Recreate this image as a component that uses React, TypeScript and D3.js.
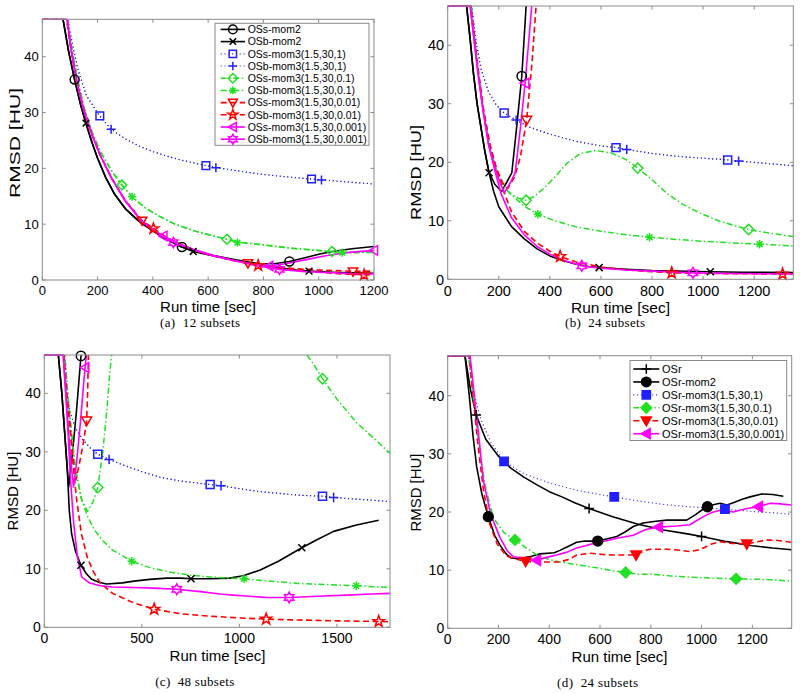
import React from "react";
import * as d3 from "d3";

type P = [number, number];

// ---------- (a) 12 subsets ----------
const aOSsMom2: P[] = [[0,60],[75,47],[95,41],[117,35.9],[138,31.5],[158,28],[180,24.6],[200,21.8],[230,18.3],[260,15.5],[300,12.8],[350,10.5],[400,8.8],[450,7.3],[505,5.9],[560,5.1],[620,4.4],[700,3.6],[780,2.95],[840,2.9],[894,3.3],[950,4.0],[1000,4.6],[1050,5.1],[1120,5.6],[1200,6.0]];
const aOSsMom2Marks: P[] = [[117,35.9],[505,5.9],[894,3.3]];
const aOSbMom2: P[] = [[0,60],[75,47],[95,41],[117,35.8],[138,31.5],[158,28.1],[180,24.6],[200,21.8],[230,18.3],[260,15.5],[300,12.8],[350,10.5],[400,8.8],[450,7.3],[500,6.0],[546,5.1],[620,4.3],[700,3.5],[780,2.8],[860,2.2],[920,1.8],[965,1.6],[1050,1.4],[1120,1.3],[1200,1.2]];
const aOSbMom2Marks: P[] = [[158,28.1],[546,5.1],[965,1.6]];
const aOSs1: P[] = [[0,60],[92,47],[110,42],[130,37.5],[160,33],[208,29.4],[249,27.0],[300,25.3],[350,24],[400,23],[450,22.2],[500,21.5],[592,20.5],[700,19.6],[800,18.9],[900,18.4],[974,18.1],[1050,17.8],[1120,17.5],[1200,17.2]];
const aOSs1Marks: P[] = [[208,29.4],[592,20.5],[974,18.1]];
const aOSb1: P[] = [[0,60],[92,47],[110,42],[130,37.5],[160,33],[208,29.3],[249,27.0],[300,25.3],[350,24],[400,23],[450,22.2],[500,21.5],[628,20.1],[700,19.6],[800,18.9],[900,18.4],[1010,17.9],[1120,17.5],[1200,17.2]];
const aOSb1Marks: P[] = [[249,27.0],[628,20.1],[1010,17.9]];
const aOSs01: P[] = [[0,60],[90,47],[105,42],[125,36.5],[150,31],[180,26.5],[210,23],[250,19.6],[288,17.0],[325,14.9],[370,13],[420,11.5],[480,10],[550,8.8],[610,8],[668,7.3],[706,6.8],[760,6.5],[830,6.1],[900,5.7],[970,5.4],[1048,5.1],[1085,5.0],[1140,4.95],[1200,5.0]];
const aOSs01Marks: P[] = [[288,17.0],[668,7.3],[1048,5.1]];
const aOSb01: P[] = [[0,60],[90,47],[105,42],[125,36.5],[150,31],[180,26.5],[210,23],[250,19.6],[288,17.0],[325,14.9],[370,13],[420,11.5],[480,10],[550,8.8],[610,8],[668,7.3],[706,6.8],[760,6.5],[830,6.1],[900,5.7],[970,5.4],[1048,5.1],[1085,4.9],[1140,4.9],[1200,4.95]];
const aOSb01Marks: P[] = [[325,14.9],[706,6.7],[1085,4.9]];
const aOSs001: P[] = [[0,60],[88,47],[105,41],[125,35.5],[150,30.5],[180,26],[210,22.3],[250,18.3],[300,14.2],[361,10.6],[402,9.2],[450,7.6],[500,6.4],[560,5.2],[620,4.3],[680,3.6],[744,3.0],[781,2.65],[850,2.3],[920,2.0],[1000,1.8],[1080,1.65],[1124,1.55],[1200,1.6]];
const aOSs001Marks: P[] = [[361,10.6],[744,3.0],[1124,1.5]];
const aOSb001: P[] = [[0,60],[88,47],[105,41],[125,35.5],[150,30.5],[180,26],[210,22.3],[250,18.3],[300,14.2],[361,10.6],[402,9.2],[450,7.6],[500,6.4],[560,5.2],[620,4.3],[680,3.6],[744,3.0],[781,2.6],[850,2.2],[920,1.8],[1000,1.4],[1080,1.1],[1164,0.95],[1200,0.9]];
const aOSb001Marks: P[] = [[402,9.2],[781,2.6],[1164,0.9]];
const aOSs0001: P[] = [[0,60],[90,47],[105,41],[125,35.5],[150,30.5],[180,26],[210,22.3],[250,18.3],[300,14.2],[360,10.5],[400,9.0],[438,7.9],[500,6.3],[560,5.2],[620,4.3],[700,3.4],[760,2.9],[821,2.5],[880,2.9],[950,3.6],[1020,4.3],[1100,4.9],[1200,5.3]];
const aOSs0001Marks: P[] = [[438,7.9],[821,2.5],[1200,5.3]];
const aOSb0001: P[] = [[0,60],[90,47],[105,41],[125,35.5],[150,30.5],[180,26],[210,22.3],[250,18.3],[300,14.2],[360,10.5],[400,9.0],[438,7.8],[474,6.8],[540,5.6],[620,4.4],[700,3.4],[780,2.5],[858,1.9],[950,1.5],[1050,1.3],[1120,1.15],[1200,1.1]];
const aOSb0001Marks: P[] = [[474,6.7],[858,1.9]];

// ---------- (b) 24 subsets ----------
const bOSsMom2: P[] = [[0,60],[74,47],[88,41],[100,35.5],[115,30],[130,26],[145,22],[162,18.2],[185,16.2],[211,15],[230,16.5],[251,18.2],[270,26],[290,34.7],[307,47]];
const bOSsMom2Marks: P[] = [[290,34.7]];
const bOSbMom2: P[] = [[0,60],[74,47],[88,41],[100,35.5],[115,30],[130,26],[145,22],[162,18.2],[180,15],[200,12.4],[250,9.0],[300,6.9],[350,5.2],[400,4.0],[450,3.2],[500,2.6],[550,2.2],[593,2.0],[700,1.7],[800,1.5],[900,1.4],[1028,1.3],[1150,1.2],[1353,1.15]];
const bOSbMom2Marks: P[] = [[162,18.2],[593,2.0],[1028,1.3]];
const bOSs1: P[] = [[0,60],[94,47],[110,41],[130,36],[160,32],[190,29.8],[221,28.4],[268,27.2],[320,26],[400,24.8],[500,23.6],[600,22.8],[659,22.5],[701,22.2],[800,21.5],[900,21],[1000,20.7],[1096,20.4],[1139,20.2],[1250,19.8],[1353,19.4]];
const bOSs1Marks: P[] = [[221,28.4],[659,22.5],[1096,20.4]];
const bOSb1: P[] = [[0,60],[94,47],[110,41],[130,36],[160,32],[190,29.8],[221,28.4],[268,27.2],[320,26],[400,24.8],[500,23.6],[600,22.8],[659,22.5],[701,22.2],[800,21.5],[900,21],[1000,20.7],[1096,20.4],[1139,20.2],[1250,19.8],[1353,19.4]];
const bOSb1Marks: P[] = [[268,27.2],[701,22.2],[1139,20.2]];
const bOSs01: P[] = [[0,60],[92,47],[105,41],[120,35],[140,28.5],[165,22.5],[195,18],[225,15.5],[250,14.5],[280,13.8],[307,13.5],[340,14.2],[375,15.5],[420,17.5],[466,19.8],[520,21.5],[580,22],[640,21.6],[700,20.4],[744,19.0],[800,17],[858,14.7],[920,12.8],[989,11.3],[1060,10],[1120,9.2],[1178,8.5],[1260,7.9],[1353,7.3]];
const bOSs01Marks: P[] = [[307,13.5],[744,19.0],[1178,8.5]];
const bOSb01: P[] = [[0,60],[92,47],[105,41],[120,35],[140,28.5],[165,22.5],[195,18],[225,15.5],[250,14.4],[300,12.5],[353,11.1],[420,10],[500,9],[600,8.2],[700,7.6],[790,7.2],[900,6.8],[1000,6.5],[1100,6.25],[1221,6.0],[1353,5.7]];
const bOSb01Marks: P[] = [[353,11.1],[790,7.2],[1221,6.0]];
const bOSs001: P[] = [[0,60],[90,47],[105,41],[120,35.5],[140,29],[165,23],[190,19],[215,16.5],[235,15.5],[262,17.5],[285,21],[309,27.2],[330,37],[346,47]];
const bOSs001Marks: P[] = [[309,27.2]];
const bOSb001: P[] = [[0,60],[90,47],[105,41],[120,35.5],[140,29],[165,23],[190,19],[215,15.5],[250,11.5],[300,8.2],[350,6.2],[400,4.8],[440,3.9],[500,3.0],[600,2.1],[700,1.6],[800,1.3],[877,1.1],[1000,1.0],[1150,0.95],[1311,0.9],[1353,0.9]];
const bOSb001Marks: P[] = [[440,3.9],[877,1.1],[1311,0.9]];
const bOSs0001: P[] = [[0,60],[88,47],[103,41],[118,35.5],[138,29],[160,23],[185,19],[205,16.5],[222,14.8],[245,16.5],[264,18.2],[285,26],[303,33.5],[329,47]];
const bOSs0001Marks: P[] = [[303,33.5]];
const bOSb0001: P[] = [[0,60],[88,47],[103,41],[118,35.5],[138,29],[160,23],[185,18.5],[210,14.5],[250,10.5],[300,7.6],[350,5.6],[400,4.3],[450,3.3],[525,2.3],[600,1.9],[700,1.6],[800,1.4],[960,1.1],[1100,1.0],[1353,0.9]];
const bOSb0001Marks: P[] = [[525,2.3],[960,1.1]];

// ---------- (c) 48 subsets ----------
const cOSsMom2: P[] = [[0,60],[72,47],[90,40],[105,33],[118,27],[125,24],[145,30],[165,37],[188,46.4],[192,48]];
const cOSsMom2Marks: P[] = [[188,46.4]];
const cOSbMom2: P[] = [[0,60],[72,47],[90,40],[105,33],[118,27],[128,20],[140,16],[160,13],[188,10.6],[215,9.2],[243,8.2],[280,7.7],[320,7.4],[400,7.6],[460,7.9],[540,8.2],[628,8.4],[700,8.4],[752,8.3],[850,8.3],[950,8.4],[1020,8.8],[1107,9.8],[1200,11.3],[1320,13.6],[1400,15.0],[1483,16.4],[1600,17.5],[1714,18.3]];
const cOSbMom2Marks: P[] = [[188,10.6],[752,8.3],[1320,13.6]];
const cOSs1: P[] = [[0,60],[97,47],[110,41],[130,37],[160,34],[200,32],[240,30.5],[274,29.6],[332,28.7],[400,27.8],[500,26.6],[600,25.6],[700,25],[850,24.4],[906,24.2],[1000,23.7],[1100,23.2],[1200,22.9],[1300,22.6],[1426,22.4],[1483,22.2],[1600,21.9],[1772,21.5]];
const cOSs1Marks: P[] = [[274,29.6],[850,24.4],[1426,22.4]];
const cOSb1: P[] = [[0,60],[97,47],[110,41],[130,37],[160,34],[200,32],[240,30.5],[274,29.6],[332,28.7],[400,27.8],[500,26.6],[600,25.6],[700,25],[850,24.4],[906,24.2],[1000,23.7],[1100,23.2],[1200,22.9],[1300,22.6],[1426,22.4],[1483,22.2],[1600,21.9],[1772,21.5]];
const cOSb1Marks: P[] = [[332,28.7],[906,24.2],[1483,22.2]];
const cOSs01: P[] = [[0,60],[105,47],[120,40],[140,33],[160,27],[190,22],[221,19.8],[250,21.5],[274,23.9],[300,30],[320,37],[337,44],[345,48],[NaN,NaN],[1346,48],[1380,45],[1426,42.5],[1500,39],[1600,35],[1700,32],[1772,29.7]];
const cOSs01Marks: P[] = [[274,23.9],[1426,42.5]];
const cOSb01: P[] = [[0,60],[105,47],[120,40],[140,33],[160,27],[190,22],[221,19],[260,16.5],[300,14.8],[350,13.2],[448,11.3],[550,10.1],[650,9.4],[750,8.9],[850,8.6],[950,8.4],[1024,8.3],[1150,7.9],[1300,7.5],[1450,7.3],[1599,7.1],[1772,6.8]];
const cOSb01Marks: P[] = [[448,11.3],[1024,8.3],[1599,7.1]];
const cOSs001: P[] = [[0,60],[100,47],[115,40],[135,33],[150,28],[162,25.2],[180,28],[200,31.5],[217,35.3],[222,40],[226,47]];
const cOSs001Marks: P[] = [[217,35.3]];
const cOSb001: P[] = [[0,60],[100,47],[115,40],[135,33],[150,27],[165,22],[190,16],[220,12],[250,9.6],[286,7.6],[350,5.8],[457,4.2],[563,3.1],[700,2.3],[850,1.9],[1000,1.6],[1137,1.4],[1300,1.25],[1500,1.1],[1714,1.0],[1772,0.95]];
const cOSb001Marks: P[] = [[563,3.1],[1137,1.4],[1714,1.0]];
const cOSs0001: P[] = [[0,60],[97,47],[110,40],[125,33],[140,27],[150,24],[165,28],[185,35],[200,41],[209,44.4],[216,48]];
const cOSs0001Marks: P[] = [[209,44.4]];
const cOSb0001: P[] = [[0,60],[97,47],[110,40],[122,33],[135,25],[150,18],[170,12],[192,8.6],[230,7.6],[286,7.1],[350,6.9],[457,6.8],[560,6.7],[679,6.5],[800,6.1],[900,5.7],[970,5.5],[1050,5.3],[1141,5.1],[1255,5.1],[1400,5.3],[1550,5.5],[1680,5.7],[1772,5.8]];
const cOSb0001Marks: P[] = [[679,6.5],[1255,5.1]];

// ---------- (d) 24 subsets ----------
const dOSr: P[] = [[0,60],[68,47],[90,41],[112,36.7],[150,32.5],[200,29.6],[250,27.5],[300,26],[350,24.7],[400,23.5],[450,22.6],[500,21.6],[557,20.6],[650,19.2],[750,17.9],[850,16.9],[950,16.2],[1000,15.8],[1100,14.9],[1200,14.2],[1280,13.8],[1355,13.5]];
const dOSrMarks: P[] = [[112,36.7],[557,20.6],[1000,15.8]];
const dOSrMom2: P[] = [[0,60],[68,47],[85,40],[100,33],[114,27.8],[135,23],[160,19.2],[185,16],[206,14.3],[230,12.8],[250,12.1],[285,12.0],[330,12.4],[364,12.8],[420,13.0],[442,13.4],[480,14.2],[508,14.8],[540,15.0],[591,15.0],[630,15.4],[666,15.8],[700,16.6],[731,17.5],[770,18.1],[820,18.4],[863,18.6],[941,18.6],[975,19.5],[1000,20.3],[1023,20.9],[1050,21.3],[1073,21.5],[1100,21.2],[1125,21.6],[1160,22.2],[1191,22.6],[1237,23.1],[1280,23.0],[1322,22.7]];
const dOSrMom2Marks: P[] = [[160,19.2],[591,15.0],[1023,20.9]];
const dOSr1: P[] = [[0,60],[81,47],[100,41],[130,36],[170,32],[222,28.7],[300,26.6],[400,25],[500,23.8],[600,23],[656,22.6],[750,21.9],[850,21.3],[950,20.9],[1092,20.5],[1200,20.1],[1300,19.8],[1355,19.6]];
const dOSr1Marks: P[] = [[222,28.7],[656,22.6],[1092,20.5]];
const dOSr01: P[] = [[0,60],[82,47],[100,40],[127,30],[150,24],[180,19],[220,16.5],[265,15.2],[310,13.8],[364,12.3],[420,11.6],[469,11.2],[530,10.8],[600,10.3],[650,9.9],[701,9.6],[750,9.3],[797,9.3],[880,9.0],[994,8.7],[1060,8.6],[1136,8.5],[1250,8.4],[1355,8.1]];
const dOSr01Marks: P[] = [[265,15.2],[701,9.6],[1136,8.5]];
const dOSr001: P[] = [[0,60],[85,47],[100,40],[118,32],[140,24],[165,18],[195,14.5],[230,12.5],[260,12.0],[307,11.5],[377,11.4],[442,11.4],[480,11.9],[508,12.6],[561,12.9],[610,12.7],[652,12.6],[742,12.6],[770,13.3],[797,13.6],[863,13.6],[920,13.4],[954,13.2],[990,13.5],[1007,13.8],[1040,14.5],[1073,14.9],[1120,14.6],[1178,14.5],[1256,15.2],[1300,15.1],[1355,14.8]];
const dOSr001Marks: P[] = [[307,11.5],[742,12.6],[1178,14.5]];
const dOSr0001: P[] = [[0,60],[88,47],[105,40],[125,32],[140,25.5],[170,19.5],[206,15.6],[235,13.3],[259,12.3],[311,12.0],[350,11.7],[390,12.2],[429,12.6],[470,13.1],[508,13.8],[550,14.3],[587,14.7],[630,15.1],[666,15.5],[731,16.0],[780,17.0],[830,17.4],[902,17.6],[954,17.8],[980,18.5],[1007,19.2],[1040,19.9],[1073,20.3],[1100,20.2],[1125,20.0],[1150,20.3],[1178,20.6],[1224,20.9],[1270,21.5],[1310,21.4],[1355,21.2]];
const dOSr0001Marks: P[] = [[350,11.7],[830,17.4],[1224,20.9]];

// labels and ticks
const legendA = ["OSs-mom2","OSb-mom2","OSs-mom3(1.5,30,1)","OSb-mom3(1.5,30,1)","OSs-mom3(1.5,30,0.1)","OSb-mom3(1.5,30,0.1)","OSs-mom3(1.5,30,0.01)","OSb-mom3(1.5,30,0.01)","OSs-mom3(1.5,30,0.001)","OSb-mom3(1.5,30,0.001)"];
const legendD = ["OSr","OSr-mom2","OSr-mom3(1.5,30,1)","OSr-mom3(1.5,30,0.1)","OSr-mom3(1.5,30,0.01)","OSr-mom3(1.5,30,0.001)"];
const xTicks200 = [0,200,400,600,800,1000,1200];
const xTicks500 = [0,500,1000,1500];
const yTicks = [0,10,20,30,40];
const captions = ["(a)  12 subsets","(b)  24 subsets","(c)  48 subsets","(d)  24 subsets"];

// styles
const K = "#000000", B = "#2020ff", G = "#22e022", R = "#ff0000", M = "#ff00ff";
const DASH = "6,3.5", DOT = "1,2.8", DASHDOT = "6,2.5,1.5,2.5";
type Sty = { color: string; dash?: string; w: number; mk: string; fill?: boolean };
const solidK = (mk: string, fill = false): Sty => ({ color: K, w: 1.6, mk, fill });
const stylesA: Sty[] = [
  solidK("o"), solidK("x"),
  { color: B, dash: DOT, w: 1.2, mk: "s" }, { color: B, dash: DOT, w: 1.2, mk: "+" },
  { color: G, dash: DASHDOT, w: 1.5, mk: "d" }, { color: G, dash: DASHDOT, w: 1.5, mk: "*" },
  { color: R, dash: DASH, w: 1.6, mk: "v" }, { color: R, dash: DASH, w: 1.6, mk: "p" },
  { color: M, w: 1.6, mk: "<" }, { color: M, w: 1.6, mk: "h" },
];
const stylesD: Sty[] = [
  solidK("+"), solidK("o", true),
  { color: B, dash: DOT, w: 1.2, mk: "s", fill: true },
  { color: G, dash: DASHDOT, w: 1.5, mk: "d", fill: true },
  { color: R, dash: DASH, w: 1.6, mk: "v", fill: true },
  { color: M, w: 1.6, mk: "<", fill: true },
];

function star(n: number, ro: number, ri: number): string {
  const pts: string[] = [];
  for (let i = 0; i < 2 * n; i++) {
    const r = i % 2 === 0 ? ro : ri;
    const a = -Math.PI / 2 + (i * Math.PI) / n;
    pts.push(`${(r * Math.cos(a)).toFixed(2)},${(r * Math.sin(a)).toFixed(2)}`);
  }
  return "M" + pts.join("L") + "Z";
}

function markerPath(mk: string, s: number): string {
  switch (mk) {
    case "o": return `M${s},0A${s},${s} 0 1,1 ${-s},0A${s},${s} 0 1,1 ${s},0Z`;
    case "x": { const a = s * 0.75; return `M${-a},${-a}L${a},${a}M${-a},${a}L${a},${-a}`; }
    case "s": { const a = s * 0.85; return `M${-a},${-a}L${a},${-a}L${a},${a}L${-a},${a}Z`; }
    case "+": return `M${-s},0L${s},0M0,${-s}L0,${s}`;
    case "d": { const a = s * 1.1; return `M0,${-a}L${a},0L0,${a}L${-a},0Z`; }
    case "*": { const a = s * 0.9, b = a * 0.7; return `M${-a},0L${a},0M0,${-a}L0,${a}M${-b},${-b}L${b},${b}M${-b},${b}L${b},${-b}`; }
    case "v": return `M${-s * 1.05},${-s * 0.8}L${s * 1.05},${-s * 0.8}L0,${s * 1.05}Z`;
    case "<": return `M${-s * 1.05},0L${s * 0.8},${-s * 1.05}L${s * 0.8},${s * 1.05}Z`;
    case "p": return star(5, s * 1.25, s * 0.5);
    case "h": return star(6, s * 1.15, s * 0.65);
  }
  return "";
}

type Series = { line: P[]; marks: P[]; sty: Sty };
type Panel = {
  id: string; left: number; right: number; top: number; bottom: number;
  xMax: number; yMax: number; xTicks: number[]; fs: number;
  series: Series[];
  yLab: { x: number; y: number; len: number; fs: number };
  xLab: { x: number; y: number; fs: number };
  cap: { text: string; x: number; y: number; len: number };
  legend?: { labels: string[]; x: number; y: number; w: number; h: number; row: number; first: number; l1: number; l2: number; tx: number; fs: number; ms: number };
  ms: number;
};

const zip = (lines: P[][], marks: P[][], sty: Sty[]): Series[] => lines.map((l, i) => ({ line: l, marks: marks[i], sty: sty[i] }));

const panels: Panel[] = [
  {
    id: "a", left: 42.3, right: 374, top: 19.3, bottom: 280, xMax: 1200, yMax: 46.7, xTicks: xTicks200, fs: 13,
    series: zip(
      [aOSsMom2, aOSbMom2, aOSs1, aOSb1, aOSs01, aOSb01, aOSs001, aOSb001, aOSs0001, aOSb0001],
      [aOSsMom2Marks, aOSbMom2Marks, aOSs1Marks, aOSb1Marks, aOSs01Marks, aOSb01Marks, aOSs001Marks, aOSb001Marks, aOSs0001Marks, aOSb0001Marks],
      stylesA),
    yLab: { x: 14.5, y: 143, len: 110, fs: 15 }, xLab: { x: 208, y: 312, fs: 15 },
    cap: { text: captions[0], x: 200, y: 327, len: 80 },
    legend: { labels: legendA, x: 215, y: 23.3, w: 154, h: 122, row: 12.2, first: 29.4, l1: 220.7, l2: 245, tx: 247.7, fs: 10.5, ms: 4.3 },
    ms: 4.5,
  },
  {
    id: "b", left: 447.7, right: 793.3, top: 6, bottom: 279.3, xMax: 1353, yMax: 46.7, xTicks: xTicks200, fs: 14.5,
    series: zip(
      [bOSsMom2, bOSbMom2, bOSs1, bOSb1, bOSs01, bOSb01, bOSs001, bOSb001, bOSs0001, bOSb0001],
      [bOSsMom2Marks, bOSbMom2Marks, bOSs1Marks, bOSb1Marks, bOSs01Marks, bOSb01Marks, bOSs001Marks, bOSb001Marks, bOSs0001Marks, bOSb0001Marks],
      stylesA),
    yLab: { x: 415, y: 172.5, len: 95, fs: 15.5 }, xLab: { x: 620.5, y: 313, fs: 15.5 },
    cap: { text: captions[1], x: 605, y: 327, len: 80 },
    ms: 4.7,
  },
  {
    id: "c", left: 44.3, right: 390, top: 355, bottom: 627.3, xMax: 1772, yMax: 46.55, xTicks: xTicks500, fs: 14,
    series: zip(
      [cOSsMom2, cOSbMom2, cOSs1, cOSb1, cOSs01, cOSb01, cOSs001, cOSb001, cOSs0001, cOSb0001],
      [cOSsMom2Marks, cOSbMom2Marks, cOSs1Marks, cOSb1Marks, cOSs01Marks, cOSb01Marks, cOSs001Marks, cOSb001Marks, cOSs0001Marks, cOSb0001Marks],
      stylesA),
    yLab: { x: 13, y: 491, len: 79, fs: 15 }, xLab: { x: 217.5, y: 661, fs: 15 },
    cap: { text: captions[2], x: 194.7, y: 686, len: 79 },
    ms: 4.7,
  },
  {
    id: "d", left: 447.7, right: 791.7, top: 355.7, bottom: 628.3, xMax: 1355, yMax: 46.88, xTicks: xTicks200, fs: 14,
    series: zip(
      [dOSr, dOSrMom2, dOSr1, dOSr01, dOSr001, dOSr0001],
      [dOSrMarks, dOSrMom2Marks, dOSr1Marks, dOSr01Marks, dOSr001Marks, dOSr0001Marks],
      stylesD),
    yLab: { x: 416, y: 492.5, len: 78, fs: 15 }, xLab: { x: 619.5, y: 662, fs: 15 },
    cap: { text: captions[3], x: 597.5, y: 687, len: 81 },
    legend: { labels: legendD, x: 630, y: 360.5, w: 156.7, h: 80, row: 12.94, first: 369, l1: 633.3, l2: 659.3, tx: 662, fs: 11, ms: 4.8 },
    ms: 4.9,
  },
];

const SANS = "'Liberation Sans', Arial, Helvetica, sans-serif";
const SERIF = "'Liberation Serif', 'Times New Roman', serif";
const BOX = "#8a8a8a";

function Marker({ x, y, sty, s }: { x: number; y: number; sty: Sty; s: number }) {
  const open = sty.mk === "x" || sty.mk === "+" || sty.mk === "*";
  return (
    <path
      d={markerPath(sty.mk, s)}
      transform={`translate(${x},${y})`}
      fill={sty.fill && !open ? sty.color : "none"}
      stroke={sty.color}
      strokeWidth={1.5}
      strokeLinejoin="miter"
    />
  );
}

function PanelView({ p }: { p: Panel }) {
  const xs = d3.scaleLinear().domain([0, p.xMax]).range([p.left, p.right]);
  const ys = d3.scaleLinear().domain([0, p.yMax]).range([p.bottom, p.top]).clamp(true);
  const line = d3.line<P>()
    .defined((d) => !isNaN(d[0]) && !isNaN(d[1]))
    .x((d) => xs(d[0]))
    .y((d) => ys(d[1]));
  const tl = 3.5;
  return (
    <g>
      <defs>
        <clipPath id={`clip-${p.id}`}>
          <rect x={p.left} y={p.top - 0.5} width={p.right - p.left} height={p.bottom - p.top + 1} />
        </clipPath>
      </defs>
      {/* ticks */}
      {p.xTicks.map((t) => (
        <g key={"xt" + t}>
          <line x1={xs(t)} x2={xs(t)} y1={p.bottom} y2={p.bottom - tl} stroke={BOX} />
          <line x1={xs(t)} x2={xs(t)} y1={p.top} y2={p.top + tl} stroke={BOX} />
          <text x={xs(t)} y={p.bottom + p.fs * 1.15} textAnchor="middle" fontSize={p.fs} fontFamily={SANS}>{t}</text>
        </g>
      ))}
      {yTicks.map((t) => (
        <g key={"yt" + t}>
          <line x1={p.left} x2={p.left + tl} y1={ys(t)} y2={ys(t)} stroke={BOX} />
          <line x1={p.right} x2={p.right - tl} y1={ys(t)} y2={ys(t)} stroke={BOX} />
          <text x={p.left - 3.5} y={ys(t)} dy="0.36em" textAnchor="end" fontSize={p.fs} fontFamily={SANS}>{t}</text>
        </g>
      ))}
      {/* data */}
      <g clipPath={`url(#clip-${p.id})`}>
        {p.series.map((s, i) => (
          <path key={"l" + i} d={line(s.line) || ""} fill="none" stroke={s.sty.color} strokeWidth={s.sty.w}
            strokeDasharray={s.sty.dash} strokeLinejoin="round" />
        ))}
      </g>
      {p.series.map((s, i) => (
        <g key={"m" + i}>
          {s.marks.map((m, j) => (
            <Marker key={j} x={xs(m[0])} y={ys(m[1])} sty={s.sty} s={p.ms} />
          ))}
        </g>
      ))}
      <rect x={p.left} y={p.top} width={p.right - p.left} height={p.bottom - p.top} fill="none" stroke={BOX} strokeWidth={1} />
      {/* legend */}
      {p.legend && (
        <g>
          <rect x={p.legend.x} y={p.legend.y} width={p.legend.w} height={p.legend.h} fill="#fff" stroke={BOX} />
          {p.legend.labels.map((lab, i) => {
            const s = p.series[i].sty;
            const cy = p.legend!.first + i * p.legend!.row;
            const cx = (p.legend!.l1 + p.legend!.l2) / 2;
            return (
              <g key={lab}>
                <line x1={p.legend!.l1} x2={p.legend!.l2} y1={cy} y2={cy} stroke={s.color} strokeWidth={s.w} strokeDasharray={s.dash} />
                <Marker x={cx} y={cy} sty={s} s={p.legend!.ms} />
                <text x={p.legend!.tx} y={cy} dy="0.36em" fontSize={p.legend!.fs} fontFamily={SANS}>{lab}</text>
              </g>
            );
          })}
        </g>
      )}
      {/* labels */}
      <text transform={`translate(${p.yLab.x},${p.yLab.y}) rotate(-90)`} dy="0.36em" textAnchor="middle"
        fontSize={p.yLab.fs} fontFamily={SANS} textLength={p.yLab.len} lengthAdjust="spacingAndGlyphs">RMSD [HU]</text>
      <text x={p.xLab.x} y={p.xLab.y} textAnchor="middle" fontSize={p.xLab.fs} fontFamily={SANS}>Run time [sec]</text>
      <text x={p.cap.x} y={p.cap.y} textAnchor="middle" fontSize={13} fontFamily={SERIF} xmlSpace="preserve"
        textLength={p.cap.len} lengthAdjust="spacing">{p.cap.text}</text>
    </g>
  );
}

export default function App() {
  return (
    <svg width={800} height={694} style={{ position: "absolute", left: 0, top: 0, background: "#fff" }}>
      <rect width={800} height={694} fill="#fff" />
      {panels.map((p) => <PanelView key={p.id} p={p} />)}
    </svg>
  );
}
